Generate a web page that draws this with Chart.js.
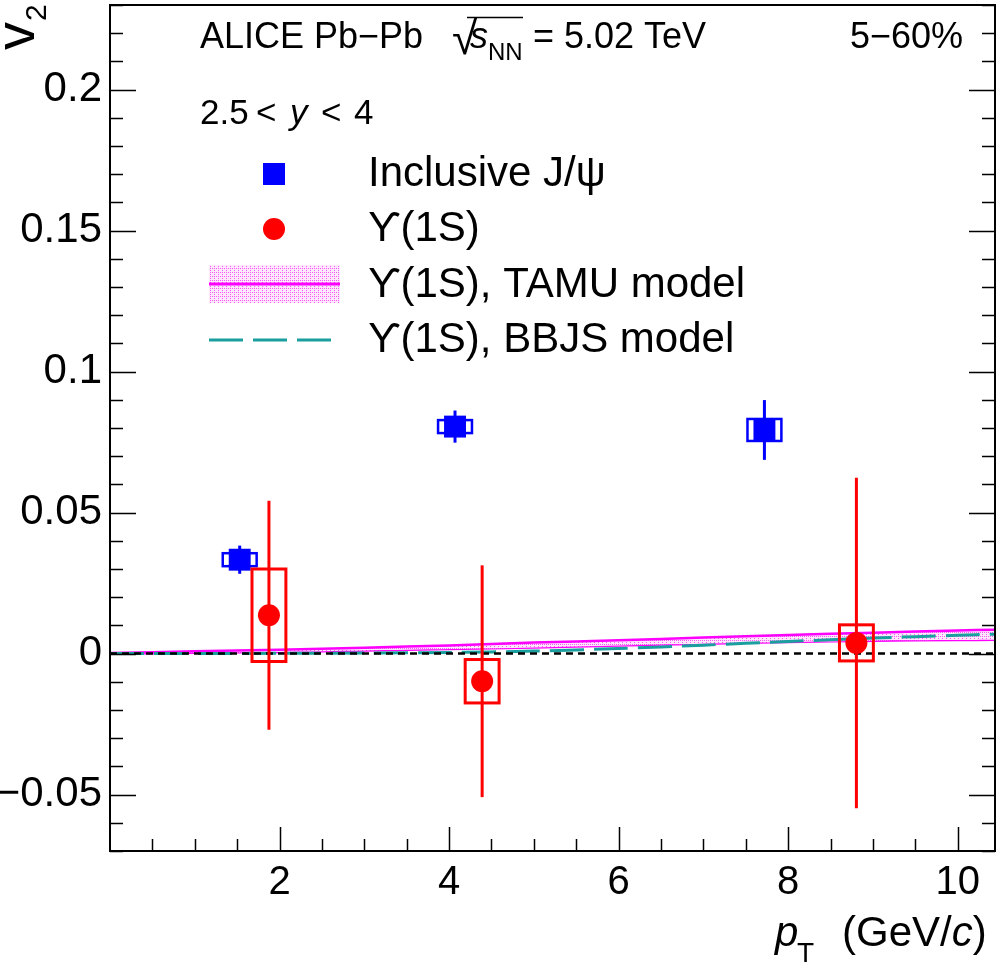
<!DOCTYPE html>
<html><head><meta charset="utf-8">
<script src="https://cdn.jsdelivr.net/npm/chart.js@4.4.0/dist/chart.umd.min.js"></script>
<style>html,body{margin:0;padding:0;background:#fff;}#wrap{width:1000px;height:967px;}</style>
</head><body><div id="wrap"><canvas id="c" width="1000" height="967"></canvas></div>
<script>
// ---- data ----
const jpsiPt   = [1.53, 4.07, 7.72];
const jpsiV2   = [0.0333, 0.0805, 0.0793];
const jpsiStat = [0.0050, 0.0057, 0.0106];
const jpsiSyst = [0.0023, 0.0023, 0.0039];
const jpsiBoxHalfWidth = [0.2, 0.2, 0.2];

const upsPt   = [1.875, 4.39, 8.805];
const upsV2   = [0.0136, -0.0098, 0.0038];
const upsStat = [0.0406, 0.0411, 0.0586];
const upsSyst = [0.0164, 0.0077, 0.0064];
const upsBoxHalfWidth = [0.2, 0.2, 0.2];

const modelPt  = [0, 1, 2, 3, 4, 5, 6, 7, 8, 9, 10, 10.44];
const tamuLow  = [0, 0.0003, 0.0006, 0.0011, 0.0016, 0.0022, 0.0029, 0.0035, 0.0041, 0.0046, 0.0048, 0.0049];
const tamuHigh = [0.0002, 0.0008, 0.0014, 0.0021, 0.0029, 0.0039, 0.0047, 0.0057, 0.0066, 0.0074, 0.0082, 0.0085];
const bbjs     = [0, 0, 0.0001, 0.0002, 0.0004, 0.0009, 0.0018, 0.0030, 0.0043, 0.0055, 0.0065, 0.0069];
const zeroLineX = [0, 10.44];
const zeroLineY = [0, 0];

const xTicks = [2, 4, 6, 8, 10];
const xTickLabels = ['2', '4', '6', '8', '10'];
const yTicks = [-0.05, 0, 0.05, 0.1, 0.15, 0.2];
const yTickLabels = ['\u22120.05', '0', '0.05', '0.1', '0.15', '0.2'];

const legendLabels = ['Inclusive J/\u03C8', '\u03D2(1S)', '\u03D2(1S), TAMU model', '\u03D2(1S), BBJS model'];

// ---- styles ----
const FONT = "'Liberation Sans', Arial, Helvetica, 'DejaVu Sans', sans-serif";
const BLUE = '#0000ff', RED = '#ff0000', MAGENTA = '#ff00ff', TEAL = '#1a9e9e';

function makePattern() {
  const c = document.createElement('canvas'); c.width = 4; c.height = 4;
  const g = c.getContext('2d');
  g.fillStyle = 'rgb(255,232,255)'; g.fillRect(0, 0, 4, 4);
  g.fillStyle = 'rgb(242,90,242)';
  g.fillRect(0, 0, 1, 1); g.fillRect(2, 2, 1, 1); g.fillRect(2, 0, 1, 1);
  return g.createPattern(c, 'repeat');
}
const bandPattern = makePattern();

function pts(xs, ys) { return xs.map((x, i) => ({x: x, y: ys[i]})); }

function drawErrors(chart, xs, ys, stat, syst, half, color, boxLw) {
  const {ctx, chartArea: a, scales: {x, y}} = chart;
  ctx.save();
  ctx.beginPath(); ctx.rect(a.left, a.top, a.right - a.left, a.bottom - a.top); ctx.clip();
  ctx.strokeStyle = color;
  for (let i = 0; i < xs.length; i++) {
    const px = x.getPixelForValue(xs[i]);
    ctx.lineWidth = 3;
    ctx.beginPath();
    ctx.moveTo(px, y.getPixelForValue(ys[i] - stat[i]));
    ctx.lineTo(px, y.getPixelForValue(ys[i] + stat[i]));
    ctx.stroke();
    const l = x.getPixelForValue(xs[i] - half[i]), r = x.getPixelForValue(xs[i] + half[i]);
    const t = y.getPixelForValue(ys[i] + syst[i]), b = y.getPixelForValue(ys[i] - syst[i]);
    ctx.lineWidth = boxLw;
    ctx.strokeRect(l, t, r - l, b - t);
  }
  ctx.restore();
}

function txt(ctx, s, x, y, size, italic, align) {
  ctx.font = (italic ? 'italic ' : '') + size + 'px ' + FONT;
  ctx.textAlign = align || 'left';
  ctx.textBaseline = 'alphabetic';
  ctx.fillStyle = '#000';
  ctx.fillText(s, x, y);
  return ctx.measureText(s).width;
}

function noPad(s) { s.paddingTop = 0; s.paddingBottom = 0; s.paddingLeft = 0; s.paddingRight = 0; }

const decor = {
  id: 'decor',
  beforeDatasetDraw(chart, args) {
    if (args.index === 0) drawErrors(chart, upsPt, upsV2, upsStat, upsSyst, upsBoxHalfWidth, RED, 3);
    if (args.index === 1) drawErrors(chart, jpsiPt, jpsiV2, jpsiStat, jpsiSyst, jpsiBoxHalfWidth, BLUE, 2.5);
  },
  afterDraw(chart) {
    const {ctx, chartArea: a, scales: {x, y}} = chart;
    ctx.save();
    // frame
    ctx.strokeStyle = '#000'; ctx.lineWidth = 2;
    ctx.strokeRect(a.left, a.top, a.right - a.left, a.bottom - a.top);
    // y ticks (left & right)
    ctx.lineWidth = 1.5;
    for (let i = -7; i <= 23; i++) {
      const py = Math.round(y.getPixelForValue(i / 100)) + 0.5;
      const len = (i % 5 === 0) ? 26 : 13;
      ctx.beginPath();
      ctx.moveTo(a.left, py); ctx.lineTo(a.left + len, py);
      ctx.moveTo(a.right, py); ctx.lineTo(a.right - len, py);
      ctx.stroke();
    }
    // x ticks (bottom)
    for (let i = 1; i <= 20; i++) {
      const px = Math.round(x.getPixelForValue(i * 0.5)) + 0.5;
      const len = (i % 4 === 0) ? 24 : 12;
      ctx.beginPath();
      ctx.moveTo(px, a.bottom); ctx.lineTo(px, a.bottom - len);
      ctx.stroke();
    }
    // header texts
    txt(ctx, 'ALICE Pb\u2212Pb', 200, 48, 36);
    txt(ctx, '\u221A', 452, 54, 46);
    txt(ctx, 's', 470, 48, 36, true);
    txt(ctx, 'NN', 488, 60, 24);
    ctx.lineWidth = 1.5;
    ctx.beginPath(); ctx.moveTo(467, 17.5); ctx.lineTo(523, 17.5); ctx.stroke();
    txt(ctx, '= 5.02 TeV', 533, 48, 36);
    txt(ctx, '5\u221260%', 963, 48, 36, false, 'right');
    // rapidity
    txt(ctx, '2.5', 200, 124, 35);
    txt(ctx, '<', 256, 124, 35);
    txt(ctx, 'y', 290, 124, 35, true);
    txt(ctx, '<', 321, 124, 35);
    txt(ctx, '4', 354, 124, 35);
    // legend
    ctx.fillStyle = BLUE; ctx.fillRect(263, 163, 22, 22);
    ctx.fillStyle = RED; ctx.beginPath(); ctx.arc(274, 229, 11, 0, Math.PI * 2); ctx.fill();
    ctx.fillStyle = bandPattern; ctx.fillRect(209, 265, 131, 38);
    ctx.strokeStyle = MAGENTA; ctx.lineWidth = 3;
    ctx.beginPath(); ctx.moveTo(209, 284); ctx.lineTo(340, 284); ctx.stroke();
    ctx.strokeStyle = TEAL; ctx.lineWidth = 3; ctx.setLineDash([34, 10]);
    ctx.beginPath(); ctx.moveTo(209, 340); ctx.lineTo(332, 340); ctx.stroke();
    ctx.setLineDash([]);
    const lb = [186, 241, 297, 352];
    legendLabels.forEach((s, i) => txt(ctx, s, 368, lb[i], 42));
    // x title
    txt(ctx, 'p', 775, 946, 42, true);
    txt(ctx, 'T', 797, 962, 28);
    let cx = 842;
    cx += txt(ctx, '(GeV/', cx, 946, 42);
    cx += txt(ctx, 'c', cx, 946, 42, true);
    txt(ctx, ')', cx, 946, 42);
    // y title (rotated)
    ctx.save();
    ctx.translate(34, 50);
    ctx.rotate(-Math.PI / 2);
    txt(ctx, 'v', 0, 0, 56);
    txt(ctx, '2', 29, 12, 30);
    ctx.restore();
    ctx.restore();
  }
};

new Chart(document.getElementById('c'), {
  type: 'scatter',
  data: {
    datasets: [
      { label: 'Upsilon(1S)', data: pts(upsPt, upsV2), pointStyle: 'circle', pointRadius: 11,
        backgroundColor: RED, borderWidth: 0, showLine: false },
      { label: 'Inclusive J/psi', data: pts(jpsiPt, jpsiV2), pointStyle: 'rect', pointRadius: 15.5,
        backgroundColor: BLUE, borderWidth: 0, showLine: false },
      { type: 'line', label: 'zero', data: pts(zeroLineX, zeroLineY), borderColor: '#000',
        borderDash: [7, 5], borderWidth: 2.5, pointRadius: 0, fill: false },
      { type: 'line', label: 'BBJS', data: pts(modelPt, bbjs), borderColor: TEAL,
        borderDash: [34, 10], borderWidth: 3, pointRadius: 0, fill: false, tension: 0.3 },
      { type: 'line', label: 'TAMU high', data: pts(modelPt, tamuHigh), borderColor: MAGENTA,
        borderWidth: 2.5, pointRadius: 0, fill: '+1', backgroundColor: bandPattern, tension: 0.3 },
      { type: 'line', label: 'TAMU low', data: pts(modelPt, tamuLow), borderColor: MAGENTA,
        borderWidth: 2.5, pointRadius: 0, fill: false, tension: 0.3 }
    ]
  },
  options: {
    animation: false, responsive: false, devicePixelRatio: 1,
    layout: { autoPadding: false, padding: { left: 0, right: 5, top: 5, bottom: 0 } },
    plugins: { legend: { display: false }, tooltip: { enabled: false } },
    scales: {
      x: {
        type: 'linear', min: 0, max: 10.44,
        afterFit(s) { s.height = 116; noPad(s); },
        afterBuildTicks(s) { s.ticks = xTicks.map(v => ({ value: v })); },
        grid: { display: false, drawTicks: false }, border: { display: false },
        ticks: { font: { family: FONT, size: 40 }, color: '#000', padding: 8, maxRotation: 0, autoSkip: false,
                 callback: (v, i) => xTickLabels[i] }
      },
      y: {
        type: 'linear', min: -0.07, max: 0.23,
        afterFit(s) { s.width = 110; noPad(s); },
        afterBuildTicks(s) { s.ticks = yTicks.map(v => ({ value: v })); },
        grid: { display: false, drawTicks: false }, border: { display: false },
        ticks: { font: { family: FONT, size: 42 }, color: '#000', padding: 8, autoSkip: false,
                 callback: (v, i) => yTickLabels[i] }
      }
    }
  },
  plugins: [decor]
});
</script></body></html>
